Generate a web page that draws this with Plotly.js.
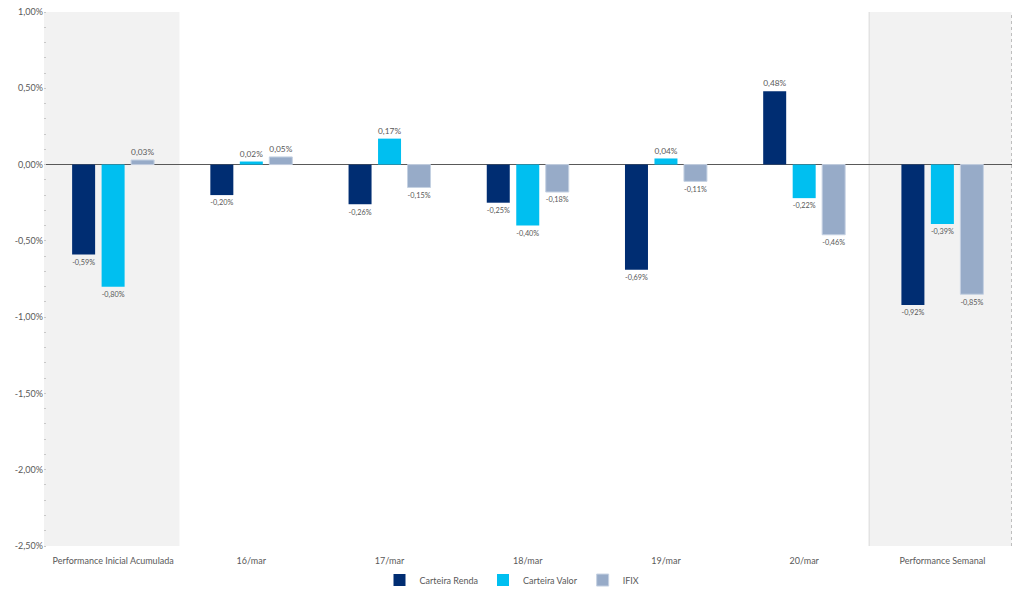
<!DOCTYPE html>
<html>
<head>
<meta charset="utf-8">
<script src="https://cdn.plot.ly/plotly-3.0.1.min.js"></script>
<style>html,body{margin:0;padding:0;background:#fff}#chart{width:1024px;height:598px}</style>
</head>
<body>
<div id="chart"></div>
<script>
var categories = ["Performance Inicial Acumulada", "16/mar", "17/mar", "18/mar", "19/mar", "20/mar", "Performance Semanal"];
var carteiraRenda = [-0.59, -0.20, -0.26, -0.25, -0.69, 0.48, -0.92];
var carteiraValor = [-0.80, 0.02, 0.17, -0.40, 0.04, -0.22, -0.39];
var ifix = [0.03, 0.05, -0.15, -0.18, -0.11, -0.46, -0.85];
var tickVals = [1.0, 0.5, 0.0, -0.5, -1.0, -1.5, -2.0, -2.5];
var tickText = tickVals.map(function (v) { return v.toFixed(2).replace(".", ",") + "%"; });

var labelFont = {family: "Lato, 'Open Sans', sans-serif", size: 9, color: "#595959"};
function series(name, y, color, line) {
  return {
    type: "bar", name: name, x: categories, y: y,
    marker: {color: color, line: line || {width: 0}},
    texttemplate: "%{y:.2f}%", textposition: "outside",
    textfont: labelFont, cliponaxis: false, hoverinfo: "skip"
  };
}
var data = [
  series("Carteira Renda", carteiraRenda, "#002D72"),
  series("Carteira Valor", carteiraValor, "#00BFF0"),
  series("IFIX", ifix, "#97ABC8", {color: "#C5D1E2", width: 1})
];
var layout = {
  width: 1024, height: 598,
  margin: {l: 44, r: 12, t: 12, b: 52},
  paper_bgcolor: "#fff", plot_bgcolor: "#fff",
  separators: ",.",
  font: {family: "Lato, 'Open Sans', sans-serif", size: 9, color: "#595959"},
  barmode: "group", bargap: 0.36, bargroupgap: 0.22,
  showlegend: true,
  legend: {orientation: "h", x: 0.5, xanchor: "center", xref: "container",
           y: 0.03, yanchor: "middle", yref: "container",
           font: {size: 9, color: "#595959"}, itemwidth: 30, traceorder: "normal"},
  xaxis: {type: "category", showgrid: false, showline: false, zeroline: false, automargin: false,
          ticks: "", ticklabelstandoff: 8, tickfont: {size: 9, color: "#595959"}, fixedrange: true},
  yaxis: {range: [-2.5, 1.0], tickmode: "array", tickvals: tickVals, ticktext: tickText,
          showgrid: false, showline: false, zeroline: true, zerolinecolor: "#595959", zerolinewidth: 1,
          tickfont: {size: 9, color: "#595959"}, ticks: "", fixedrange: true, automargin: false,
          minor: {dtick: 0.1, ticks: "inside", ticklen: 2, tickcolor: "#c8c8c8", tickwidth: 1}},
  shapes: [
    {type: "rect", xref: "x", yref: "paper", x0: -0.5, x1: 0.48, y0: 0, y1: 1,
     fillcolor: "#F2F2F2", line: {width: 0}, layer: "below"},
    {type: "rect", xref: "x", yref: "paper", x0: 5.47, x1: 6.5, y0: 0, y1: 1,
     fillcolor: "#F2F2F2", line: {width: 0}, layer: "below"},
    {type: "line", xref: "x", yref: "paper", x0: 5.47, x1: 5.47, y0: 0, y1: 1,
     line: {color: "#d9d9d9", width: 1}, layer: "below"},
    {type: "line", xref: "x", yref: "paper", x0: 6.5, x1: 6.5, y0: 0, y1: 1,
     line: {color: "#bfbfbf", width: 1, dash: "dot"}, layer: "below"}
  ]
};
Plotly.newPlot("chart", data, layout, {displayModeBar: false, staticPlot: true});
</script>
</body>
</html>
